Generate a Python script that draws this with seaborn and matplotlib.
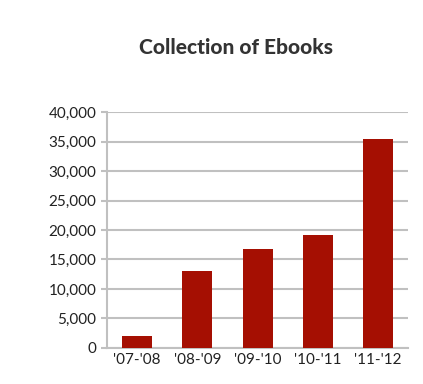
import matplotlib
matplotlib.use("Agg")
import matplotlib.pyplot as plt
import seaborn as sns
import pandas as pd
from matplotlib.ticker import FuncFormatter, FixedLocator

# Data
years = ["'07-'08", "'08-'09", "'09-'10", "'10-'11", "'11-'12"]
ebooks = [2100, 13100, 16800, 19150, 35500]

df = pd.DataFrame({"year": years, "ebooks": ebooks})

sns.set_style("white")
plt.rcParams["font.family"] = ["Lato", "DejaVu Sans"]

fig = plt.figure(figsize=(4.23, 3.84), dpi=100)
ax = fig.add_axes([0.253, 0.094, 0.712, 0.614])

sns.barplot(data=df, x="year", y="ebooks", color="#a50f02", width=0.5,
            saturation=1, linewidth=0, ax=ax, zorder=3)

ax.set_ylim(0, 40000)
ax.set_xlim(-0.5, 4.5)
ax.set_yticks(range(0, 40001, 5000))
ax.yaxis.set_major_formatter(FuncFormatter(lambda v, p: f"{int(v):,}"))
ax.grid(axis="y", color="#c0c0c0", linewidth=1.5, zorder=0)
ax.set_xlabel("")
ax.set_ylabel("")

for s in ["top", "right"]:
    ax.spines[s].set_visible(False)
for s in ["left", "bottom"]:
    ax.spines[s].set_color("#c0c0c0")
    ax.spines[s].set_linewidth(1.5)

# x ticks at category boundaries
ax.xaxis.set_minor_locator(FixedLocator([-0.5, 0.5, 1.5, 2.5, 3.5, 4.5]))
ax.tick_params(axis="x", which="major", length=0, labelsize=11, colors="#222222", pad=4)
ax.tick_params(axis="x", which="minor", length=4, color="#c0c0c0", width=1.5, direction="out")
ax.tick_params(axis="y", length=4, color="#c0c0c0", width=1.5, direction="out",
               labelsize=11, colors="#222222", left=True)
ax.tick_params(axis="y", which="major", color="#c0c0c0")

fig.text(0.557, 0.875, "Collection of Ebooks", ha="center", va="center",
         fontsize=15, fontweight="black", color="#333333")

fig.savefig("out.png", dpi=100)
